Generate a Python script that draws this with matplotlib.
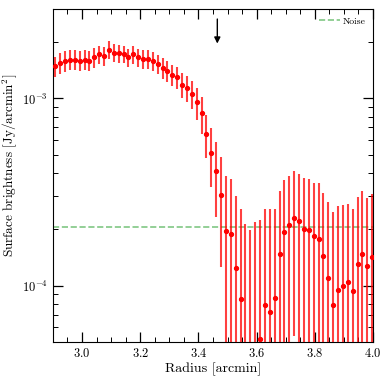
import numpy as np
import matplotlib
matplotlib.use('Agg')
import matplotlib.pyplot as plt

plt.rcParams['font.family'] = 'serif'
plt.rcParams['font.serif'] = ['cmr10']
plt.rcParams['mathtext.fontset'] = 'cm'
plt.rcParams['axes.formatter.use_mathtext'] = True

# radius bins (arcmin)
radius = [2.908, 2.925, 2.942, 2.958, 2.975, 2.992, 3.009, 3.025, 3.042, 3.059,
          3.076, 3.092, 3.109, 3.126, 3.143, 3.159, 3.176, 3.193, 3.210, 3.226,
          3.243, 3.260, 3.277, 3.293, 3.310, 3.327, 3.344, 3.360, 3.377, 3.394,
          3.411, 3.427, 3.444, 3.461, 3.478, 3.494, 3.511, 3.528, 3.545, 3.561,
          3.578, 3.595, 3.612, 3.628, 3.645, 3.662, 3.679, 3.695, 3.712, 3.729,
          3.746, 3.762, 3.779, 3.796, 3.813, 3.829, 3.846, 3.863, 3.880, 3.896,
          3.913, 3.930, 3.947, 3.963, 3.980, 3.997]

# surface brightness (Jy/arcmin^2)
sb = [1.485e-3, 1.548e-3, 1.592e-3, 1.612e-3, 1.612e-3, 1.592e-3, 1.612e-3, 1.592e-3, 1.658e-3, 1.720e-3,
      1.693e-3, 1.822e-3, 1.757e-3, 1.742e-3, 1.729e-3, 1.658e-3, 1.720e-3, 1.658e-3, 1.632e-3, 1.632e-3,
      1.592e-3, 1.529e-3, 1.456e-3, 1.409e-3, 1.341e-3, 1.304e-3, 1.187e-3, 1.134e-3, 1.054e-3, 9.56e-4,
      8.32e-4, 6.49e-4, 5.14e-4, 4.11e-4, 3.05e-4, 1.962e-4, 1.897e-4, 1.246e-4, 8.50e-5, 3.8e-5,
      2.2e-5, 4.2e-5, 5.16e-5, 7.85e-5, 7.24e-5, 8.63e-5, 1.474e-4, 1.930e-4, 2.118e-4, 2.308e-4,
      2.225e-4, 2.01e-4, 1.978e-4, 1.845e-4, 1.785e-4, 1.444e-4, 1.094e-4, 7.92e-5, 9.49e-5, 9.92e-5,
      1.041e-4, 9.37e-5, 1.304e-4, 1.468e-4, 1.267e-4, 1.42e-4]

sb_err = [1.88e-4, 1.94e-4, 2.0e-4, 1.95e-4, 1.95e-4, 1.95e-4, 1.95e-4, 1.95e-4, 1.95e-4, 1.95e-4,
          1.95e-4, 1.95e-4, 1.95e-4, 1.9e-4, 1.9e-4, 1.9e-4, 1.9e-4, 1.9e-4, 1.88e-4, 1.88e-4,
          1.85e-4, 1.85e-4, 1.8e-4, 1.8e-4, 1.76e-4, 1.76e-4, 1.76e-4, 1.78e-4, 1.8e-4, 1.84e-4,
          1.84e-4, 1.70e-4, 1.79e-4, 1.78e-4, 1.79e-4, 1.88e-4, 1.80e-4, 1.77e-4, 1.71e-4, 1.75e-4,
          1.77e-4, 1.78e-4, 1.73e-4, 1.77e-4, 1.86e-4, 1.72e-4, 1.72e-4, 1.72e-4, 1.76e-4, 1.77e-4,
          1.74e-4, 1.74e-4, 1.73e-4, 1.69e-4, 1.77e-4, 1.69e-4, 1.69e-4, 1.69e-4, 1.72e-4, 1.72e-4,
          1.69e-4, 1.63e-4, 1.67e-4, 1.73e-4, 1.66e-4, 1.67e-4]

noise = 2.05e-4
arrow_r = 3.465

fig = plt.figure(figsize=(3.83, 3.83), dpi=100)
ax = fig.add_axes([0.138, 0.107, 0.836, 0.869])

ax.errorbar(radius, sb, yerr=sb_err, fmt='o', color='red', ms=2.8,
            ecolor=(1, 0, 0, 0.75), elinewidth=1.5, capsize=0, zorder=3)
ax.axhline(noise, color='#4caf50', ls='--', lw=1.2, alpha=0.7, label='Noise')

ax.annotate('', xy=(arrow_r, 1.9e-3), xytext=(arrow_r, 2.75e-3),
            arrowprops=dict(arrowstyle='-|>', color='black', lw=1.0,
                            mutation_scale=9))

ax.set_yscale('log')
ax.set_xlim(2.9, 4.0)
ax.set_ylim(5e-5, 3e-3)
ax.set_xticks([3.0, 3.2, 3.4, 3.6, 3.8, 4.0])
ax.set_xticks(np.arange(2.9, 4.001, 0.05), minor=True)
ax.tick_params(which='both', direction='in', top=True, right=True, labelsize=9)
ax.tick_params(which='major', length=7, width=0.9)
ax.tick_params(which='minor', length=3.5, width=0.7)

ax.set_xlabel('Radius [arcmin]', fontsize=10, labelpad=2)
ax.set_ylabel('Surface brightness [Jy/arcmin$^2$]', fontsize=9.5)
ax.yaxis.set_label_coords(-0.105, 0.53)

ax.legend(loc='upper right', frameon=False, fontsize=7, handlelength=2.2,
          handletextpad=0.2, borderaxespad=0.4)

fig.savefig('out.png', dpi=100)
